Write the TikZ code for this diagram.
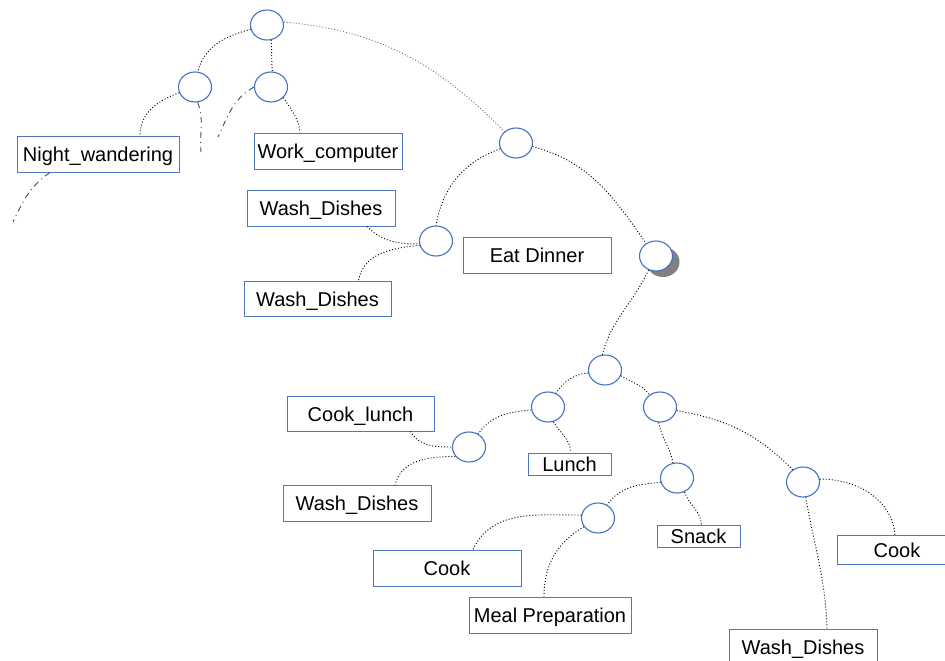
\documentclass[tikz,border=0pt]{standalone}
\usepackage{fontspec}
\setmainfont{Liberation Sans}
\usetikzlibrary{shapes.geometric}
\definecolor{nodeblue}{RGB}{68,114,196}
\definecolor{boxblue}{RGB}{80,120,190}
\definecolor{shadowgray}{RGB}{128,128,128}
\tikzset{
  state/.style={ellipse, draw=nodeblue, line width=1.1pt, fill=white, minimum width=33pt, minimum height=30pt, inner sep=0pt},
  label box/.style={rectangle, draw=boxblue, line width=0.9pt, fill=white, inner sep=0pt, text height=15pt, text depth=0pt, font=\fontsize{20}{24}\selectfont},
  link/.style={draw=black, line width=0.9pt, dash pattern=on 1pt off 2pt},
  faint link/.style={draw=black!55, line width=0.9pt, dash pattern=on 1pt off 2pt},
  broken link/.style={draw=black!70, line width=0.9pt, dash pattern=on 6pt off 4pt on 1pt off 4pt},
}
\begin{document}
\begin{tikzpicture}[x=1pt,y=-1pt]
\useasboundingbox (0,0) rectangle (945,661);
\fill[white] (0,0) rectangle (945,661);

% boxes
\node[label box, minimum width=162pt, minimum height=36pt] (NW) at (98,154) {Night\_wandering};
\node[label box, minimum width=148pt, minimum height=36pt] (WC) at (328,151) {Work\_computer};
\node[label box, minimum width=148pt, minimum height=36pt] (WD1) at (321,208) {Wash\_Dishes};
\node[label box, minimum width=147pt, minimum height=35pt] (WD2) at (317.5,298.5) {Wash\_Dishes};
\node[label box, minimum width=148pt, minimum height=36pt] (ED) at (537,255) {Eat Dinner};
\node[label box, minimum width=147pt, minimum height=35pt] (CL) at (360.5,413.5) {Cook\_lunch};
\node[label box, minimum width=83pt, minimum height=22pt] (LU) at (569.5,464) {Lunch};
\node[label box, minimum width=148pt, minimum height=36pt] (WD3) at (357,503) {Wash\_Dishes};
\node[label box, minimum width=83pt, minimum height=22pt] (SN) at (698.5,536) {Snack};
\node[label box, minimum width=148pt, minimum height=36pt] (CK1) at (447,568) {Cook};
\node[label box, minimum width=162pt, minimum height=36pt] (MP) at (550,615) {Meal Preparation};
\node[label box, minimum width=120pt, minimum height=29pt] (CK2) at (897,550) {Cook};
\node[label box, minimum width=148pt, minimum height=36pt] (WD4) at (803,647) {Wash\_Dishes};

% shadow of E
\fill[shadowgray] (663,262) ellipse [x radius=16.5pt, y radius=15pt];

% state nodes
\node[state] (R) at (267,25) {};
\node[state] (A) at (195,87) {};
\node[state] (B) at (271,87) {};
\node[state] (C) at (516,143) {};
\node[state] (D) at (436,241) {};
\node[state] (E) at (656,256) {};
\node[state] (F) at (605,370) {};
\node[state] (G) at (548,407) {};
\node[state] (H) at (469,447) {};
\node[state] (I) at (660,407) {};
\node[state] (J) at (677,478) {};
\node[state] (K) at (598,518) {};
\node[state] (L) at (803,482) {};

% free ends of broken links
\coordinate (a1) at (201,152);
\coordinate (b1) at (218,137);
\coordinate (n1) at (13,222);

% connectors
\draw[link] (R.195) to[out=195,in=75] (A.80);
\draw[link] (R.-75) to[out=-85,in=95] (B.85);
\draw[faint link] (R.10) to[out=-5,in=135] (C.135);
\draw[link] (A.200) to[out=200,in=90] ([xshift=42pt]NW.north);
\draw[link] (B.-40) to[out=-60,in=95] ([xshift=-28pt]WC.north);
\draw[broken link] (A.-80) to[out=-70,in=95] (a1);
\draw[broken link] (B.180) to[out=210,in=65] (b1);
\draw[broken link] ([xshift=-48pt]NW.south) to[out=215,in=65] (n1);

\draw[link] (C.200) to[out=200,in=80] (D.north);
\draw[link] (C.-12) to[out=-15,in=125] (E.128);
\draw[link] ([xshift=46pt]WD1.south) to[out=-45,in=180] (D.190);
\draw[link] (D.195) to[out=185,in=80] ([xshift=41pt]WD2.north);

\draw[link] (E.-118) to[out=-115,in=75] (F.100);
\draw[link] (F.190) to[out=185,in=55] (G.60);
\draw[link] (F.-20) to[out=-30,in=130] (I.130);
\draw[link] (G.190) to[out=185,in=55] (H.55);
\draw[link] (G.-70) to[out=-60,in=90] ([xshift=1pt]LU.north);
\draw[link] ([xshift=50pt]CL.south) to[out=-60,in=180] (H.west);
\draw[link] (H.215) to[out=180,in=75] ([xshift=38pt]WD3.north);
\draw[link] (I.-95) to[out=-80,in=100] (J.105);
\draw[link] (I.-12) to[out=-10,in=135] (L.130);
\draw[link] (J.195) to[out=185,in=55] (K.55);
\draw[link] (J.-62) to[out=-70,in=95] ([xshift=3pt]SN.north);
\draw[link] (K.170) to[out=180,in=65] ([xshift=26pt]CK1.north);
\draw[link] (K.212) to[out=210,in=90] ([xshift=-6pt]MP.north);
\draw[link] (L.10) to[out=0,in=95] ([xshift=-2pt]CK2.north);
\draw[link] (L.-80) to[out=-80,in=92] ([xshift=24pt]WD4.north);
\end{tikzpicture}
\end{document}
